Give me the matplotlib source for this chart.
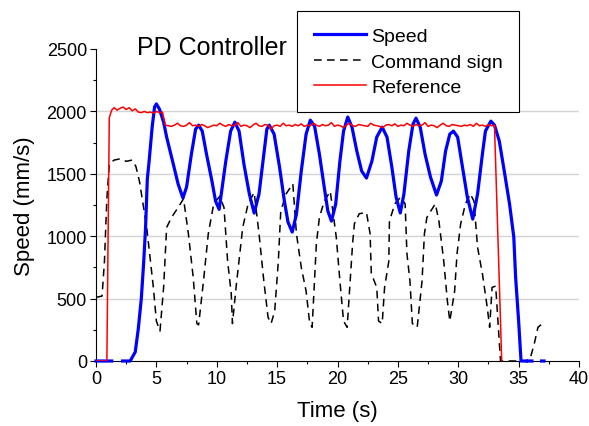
#!/usr/bin/env python3
import matplotlib
matplotlib.use('Agg')
import matplotlib.pyplot as plt
import numpy as np
from matplotlib.ticker import MultipleLocator

plt.rcParams['font.family'] = ['Liberation Sans', 'DejaVu Sans']

# speed (blue), NaN breaks the line where the trace has gaps
speed_t = [0, 1.3, np.nan, 2.2, 2.83, 3.25, 3.5, 3.75, 3.95, 4.1, 4.25, 4.4,
           4.65, 4.85, 5.0, 5.25, 5.6, 5.85, 6.4, 6.8, 7.2, 7.5, 7.9, 8.25,
           8.5, 8.8, 9.15, 9.6, 9.9, 10.2, 10.75, 11.15, 11.5, 11.85, 12.25,
           12.7, 13.1, 13.5, 13.9, 14.15, 14.35, 14.75, 15.2, 15.6, 15.9,
           16.25, 16.6, 17.0, 17.4, 17.75, 18.1, 18.5, 18.9, 19.2, 19.5,
           19.85, 20.2, 20.5, 20.85, 21.2, 21.6, 22.0, 22.4, 22.85, 23.25,
           23.7, 24.1, 24.5, 24.85, 25.2, 25.5, 25.9, 26.25, 26.5, 26.85,
           27.25, 27.7, 28.2, 28.6, 28.95, 29.3, 29.6, 29.95, 30.35, 30.75,
           31.2, 31.6, 32.0, 32.25, 32.7, 33.0, 33.4, 33.85, 34.25, 34.6,
           34.75, 35.0, 35.2, 35.6, np.nan, 35.8, 36.1, np.nan, 36.9, 37.1]
speed_v = [0, 0, np.nan, 0, 0, 72, 256, 497, 793, 1057, 1458, 1602,
           1874, 2035, 2060, 2019, 1914, 1794, 1578, 1418, 1306, 1394, 1658, 1858,
           1890, 1842, 1658, 1442, 1282, 1215, 1602, 1842, 1914, 1842, 1578,
           1338, 1185, 1338, 1658, 1858, 1890, 1818, 1554, 1282, 1113,
           1033, 1177, 1522, 1818, 1930, 1882, 1658, 1394, 1202, 1121,
           1257, 1602, 1842, 1955, 1874, 1682, 1522, 1466, 1602, 1794,
           1874, 1794, 1554, 1314, 1186, 1338, 1682, 1898, 1946, 1874,
           1658, 1474, 1330, 1442, 1682, 1818, 1842, 1794, 1554, 1314,
           1137, 1338, 1658, 1842, 1922, 1890, 1762, 1498, 1257, 993,
           673, 320, 0, 0, np.nan, 0, 0, np.nan, 0, 0]

# command sign (black dashed)
cmd_t = [0, 0.5, 0.7, 0.9, 1.1, 1.5, 2.0, 2.5, 3.0, 3.3, 3.6, 4.2, 4.75, 5.0,
         5.3, 5.6, 5.85, 6.25, 6.8, 7.25, 7.65, 8.05, 8.35, 8.5, 8.9, 9.3,
         9.75, 10.25, 10.6, 10.9, 11.2, 11.3, 11.6, 12.15, 12.6, 13.1, 13.5,
         13.9, 14.25, 14.5, 14.8, 15.1, 15.3, 15.75, 16.3, 16.6, 17.0, 17.4,
         17.7, 17.9, 18.25, 18.5, 18.9, 19.4, 19.9, 20.2, 20.5, 20.8, 21.25,
         21.4, 21.8, 22.4, 22.7, 22.8, 23.25, 23.4, 23.7, 23.9, 24.25, 24.3,
         24.75, 25.2, 25.6, 25.75, 26.0, 26.2, 26.6, 27.0, 27.2, 27.4, 28.1,
         28.4, 28.8, 29.1, 29.3, 29.7, 29.9, 30.2, 30.6, 31.0, 31.3, 31.6,
         32.0, 32.4, 32.6, 32.8, 33.1, 33.5, 35.9, 36.3, 36.6, 37.1]
cmd_v = [510, 520, 800, 1300, 1580, 1610, 1620, 1600, 1610, 1560, 1440, 1070,
         590, 320, 240, 590, 1070, 1150, 1230, 1300, 1020, 670, 300, 290, 640,
         1020, 1260, 1320, 1230, 800, 540, 300, 590, 1070, 1260, 1350, 1020,
         640, 350, 300, 400, 800, 1200, 1340, 1420, 1020, 750, 560, 300, 270,
         940, 1150, 1280, 1360, 990, 640, 320, 270, 940, 1100, 1180, 1190,
         1020, 700, 590, 320, 300, 590, 800, 1120, 1260, 1310, 1260, 860, 640,
         300, 270, 640, 1020, 1150, 1260, 1120, 800, 480, 320, 560, 860, 1100,
         1260, 1340, 1280, 910, 700, 430, 270, 590, 600, 0, 0, 140, 270, 310]

# reference (red): rise, then plateau samples every 0.25 s from 1.5 s to 33 s
ref_rise_t = [0, 0.9, 1.1, 1.3]
ref_rise_v = [0, 0, 1950, 2010]
ref_plateau = [2030, 2010, 2025, 2035, 2015, 2030, 2005, 2020, 1995, 1990,
               2000, 1990, 1995, 1985, 2000, 1990, 1995,
               1890, 1885, 1880, 1890, 1905, 1885, 1880, 1890, 1910, 1885,
               1890, 1880, 1895, 1885, 1870, 1880, 1890, 1885, 1905, 1890,
               1880, 1895, 1885, 1890, 1910, 1880, 1890, 1885, 1870, 1890,
               1905, 1885, 1880, 1895, 1890, 1860, 1885, 1890, 1880, 1905,
               1885, 1890, 1880, 1895, 1885, 1900, 1880, 1890, 1885, 1905,
               1890, 1880, 1895, 1885, 1890, 1910, 1880, 1890, 1885, 1870,
               1890, 1905, 1885, 1880, 1895, 1890, 1885, 1880, 1905, 1890,
               1885, 1880, 1870, 1890, 1895, 1885, 1900, 1880, 1890, 1885,
               1905, 1890, 1880, 1895, 1885, 1890, 1910, 1880, 1890, 1885,
               1870, 1890, 1905, 1885, 1880, 1895, 1890, 1885, 1880, 1890,
               1885, 1895, 1880, 1905, 1885, 1890, 1880, 1895, 1885, 1890]
ref_plateau_t = np.arange(len(ref_plateau)) * 0.25 + 1.5
ref_end_t = [33.6]
ref_end_v = [0]

fig = plt.figure(figsize=(5.89, 4.27), dpi=100)
ax = fig.add_axes([96 / 589, 1 - 362 / 427, 483 / 589, 312 / 427])

for y in [500, 1000, 1500, 2000]:
    ax.axhline(y, color='#d4d4d4', lw=1.0, zorder=0)

ax.plot(speed_t, speed_v, color='#0000ff', lw=2.3, label='Speed',
        clip_on=False, zorder=3)
ax.plot(cmd_t, cmd_v, color='black', lw=1.1, ls=(0, (5, 3.5)),
        label='Command sign', zorder=2)
ref_t = np.concatenate([ref_rise_t, ref_plateau_t, ref_end_t])
ref_v = np.concatenate([ref_rise_v, ref_plateau, ref_end_v])
ax.plot(ref_t, ref_v, color='#ff0000', lw=1.1, label='Reference', zorder=4)

ax.set_xlim(0, 40)
ax.set_ylim(0, 2500)
ax.xaxis.set_major_locator(MultipleLocator(5))
ax.xaxis.set_minor_locator(MultipleLocator(2.5))
ax.yaxis.set_major_locator(MultipleLocator(500))
ax.yaxis.set_minor_locator(MultipleLocator(250))
ax.tick_params(which='major', direction='out', length=4.5, width=0.8,
               labelsize=13, pad=2)
ax.tick_params(which='minor', direction='out', length=2.5, width=0.8)
ax.spines['right'].set_visible(False)
ax.spines['top'].set_visible(False)
for s in ['left', 'bottom']:
    ax.spines[s].set_linewidth(0.8)

ax.set_xlabel('Time (s)', fontsize=16, labelpad=9)
ax.set_ylabel('Speed (mm/s)', fontsize=16, labelpad=8)

fig.text(137 / 589, 1 - 48 / 427, 'PD Controller', fontsize=18,
         ha='left', va='center')

leg = fig.legend(loc='upper left', bbox_to_anchor=(297 / 589, 1 - 12 / 427),
                 borderaxespad=0, fontsize=14, handlelength=2.7,
                 handletextpad=0.25, borderpad=0.85, labelspacing=0.4,
                 fancybox=False, framealpha=1, edgecolor='black')
leg.get_frame().set_linewidth(0.8)

fig.savefig('out.png', dpi=100)
